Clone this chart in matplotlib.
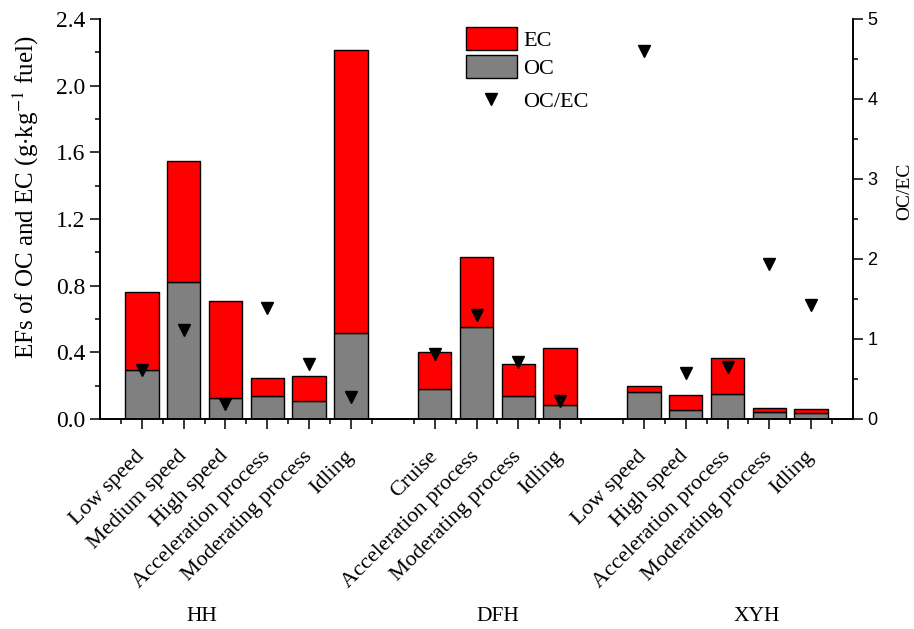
import matplotlib
matplotlib.use("Agg")
import matplotlib.pyplot as plt
from matplotlib.ticker import MultipleLocator
from matplotlib.patches import Patch
from matplotlib.lines import Line2D
import numpy as np

plt.rcParams["font.family"] = ["Liberation Serif", "DejaVu Serif"]
plt.rcParams["mathtext.fontset"] = "stix"

# ---------------------------------------------------------------------------
# Data
# ---------------------------------------------------------------------------
groups = ["HH", "DFH", "XYH"]
group_label_x = [2.44, 9.5, 15.7]

positions = [1, 2, 3, 4, 5, 6, 8, 9, 10, 11, 13, 14, 15, 16, 17]
labels = [
    "Low speed", "Medium speed", "High speed", "Acceleration process",
    "Moderating process", "Idling",
    "Cruise", "Acceleration process", "Moderating process", "Idling",
    "Low speed", "High speed", "Acceleration process", "Moderating process",
    "Idling",
]
oc = [0.294, 0.82, 0.124, 0.14, 0.108, 0.514,
      0.18, 0.554, 0.14, 0.086,
      0.164, 0.054, 0.148, 0.042, 0.034]
total = [0.764, 1.548, 0.708, 0.244, 0.26, 2.214,
         0.40, 0.974, 0.33, 0.428,
         0.20, 0.146, 0.368, 0.068, 0.062]
ec = [t - o for t, o in zip(total, oc)]
oc_ec = [0.61, 1.11, 0.19, 1.39, 0.69, 0.275,
         0.81, 1.30, 0.71, 0.22,
         4.60, 0.57, 0.65, 1.94, 1.43]

# ---------------------------------------------------------------------------
fig = plt.figure(figsize=(9.14, 6.29), dpi=100)
ax = fig.add_axes([0.1094, 0.3339, 0.8239, 0.6359])
ax2 = ax.twinx()

ax.bar(positions, oc, width=0.8, color="#808080", edgecolor="black",
       linewidth=1.0, label="OC", zorder=2)
ax.bar(positions, ec, width=0.8, bottom=oc, color="#FF0000",
       edgecolor="black", linewidth=1.0, label="EC", zorder=2)
ax2.plot(positions, oc_ec, linestyle="none", marker="v", markersize=9,
         color="black", zorder=3)

ax.set_xlim(0, 18)
ax.set_ylim(0, 2.4)
ax2.set_ylim(0, 5)

ax.yaxis.set_major_locator(MultipleLocator(0.4))
ax.yaxis.set_minor_locator(MultipleLocator(0.2))
ax.set_yticklabels([f"{v:.1f}" for v in ax.get_yticks()])
ax2.yaxis.set_major_locator(MultipleLocator(1))
ax2.yaxis.set_minor_locator(MultipleLocator(0.5))

ax.set_xticks(positions)
ax.set_xticks(np.arange(0.5, 18, 1.0), minor=True)
ax.set_xticklabels(labels, rotation=45, ha="right", va="center",
                   rotation_mode="anchor", fontsize=16)

for a in (ax, ax2):
    a.spines["top"].set_visible(False)
    for s in a.spines.values():
        s.set_linewidth(1.2)
ax.tick_params(axis="both", which="major", direction="out", length=7,
               width=1.1, labelsize=17)
ax.tick_params(axis="both", which="minor", direction="out", length=3.5,
               width=1.1)
ax.tick_params(axis="x", which="major", labelsize=16, pad=18)
ax2.tick_params(axis="y", which="major", direction="out", length=7,
                width=1.1, labelsize=13)
ax2.tick_params(axis="y", which="minor", direction="out", length=3.5,
                width=1.1)
for t in ax2.get_yticklabels():
    t.set_family(["Liberation Sans", "DejaVu Sans"])

ax.set_ylabel(r"EFs of OC and EC (g$\cdot$kg$^{-1}$ fuel)", fontsize=18)
ax.yaxis.set_label_coords(-0.078, 0.555)
ax2.set_ylabel("OC/EC", fontsize=14, rotation=90)
ax2.yaxis.set_label_coords(1.057, 0.57)

trans = ax.get_xaxis_transform()
for g, gx in zip(groups, group_label_x):
    ax.text(gx, -0.495, g, transform=trans, ha="center", va="center",
            fontsize=15.5)

bar_handles = [
    Patch(facecolor="#FF0000", edgecolor="black", linewidth=1.0),
    Patch(facecolor="#808080", edgecolor="black", linewidth=1.0),
]
leg1 = ax2.legend(bar_handles, ["EC", "OC"], loc="upper left",
                  bbox_to_anchor=(0.459, 1.03), frameon=False, fontsize=16,
                  handlelength=2.3, handleheight=1.25, labelspacing=0.15,
                  handletextpad=0.3)
ax2.add_artist(leg1)
marker_handle = [Line2D([], [], linestyle="none", marker="v", markersize=9,
                        color="black")]
ax2.legend(marker_handle, ["OC/EC"], loc="upper left",
           bbox_to_anchor=(0.459, 0.87), frameon=False, fontsize=16,
           handlelength=2.3, handletextpad=0.3)

fig.savefig("out.png", dpi=100)
